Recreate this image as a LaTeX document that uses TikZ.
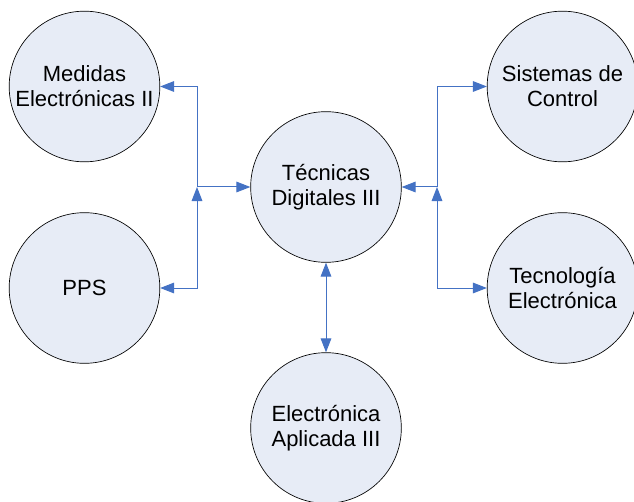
\documentclass[tikz,border=0pt]{standalone}
\usepackage{fontspec}
\setmainfont{Liberation Sans}
\usetikzlibrary{arrows.meta}
\definecolor{cfill}{RGB}{231,236,246}
\definecolor{clink}{RGB}{68,114,196}

\begin{document}
\begin{tikzpicture}[x=0.75pt,y=0.75pt,yscale=-1,xscale=1,
  subject/.style={circle,draw=black,line width=0.5pt,fill=cfill,minimum size=113pt,inner sep=0pt,align=center,font=\fontsize{16.5}{18.75}\selectfont},
  link/.style={draw=clink,line width=0.75pt,arrows={-Triangle[length=10.5pt,width=8pt]}},
  link2/.style={link,arrows={Triangle[length=10.5pt,width=8pt]-Triangle[length=10.5pt,width=8pt]}}]
\useasboundingbox (0,0) rectangle (634,502);

% Circles
\node[subject] (med) at (84.5,86.5) {Medidas\\Electrónicas II};
\node[subject] (pps) at (84.5,288) {PPS};
\node[subject] (td) at (326,187) {Técnicas\\Digitales III};
\node[subject] (ea) at (326,428) {Electrónica\\Aplicada III};
\node[subject] (sc) at (562.5,86.5) {Sistemas de\\Control};
\node[subject] (te) at (562.5,288) {Tecnología\\Electrónica};

% Junctions
\coordinate (jl) at (197,187);
\coordinate (jr) at (437,187);

% Left side
\draw[link2] (pps.east) -| (jl);
\draw[link] (jl) |- (med.east);
\draw[link] (jl) -- (td.west);

% Right side
\draw[link2] (te.west) -| (jr);
\draw[link] (jr) |- (sc.west);
\draw[link] (jr) -- (td.east);

% Bottom
\draw[link2] (td) -- (ea);

\end{tikzpicture}
\end{document}
